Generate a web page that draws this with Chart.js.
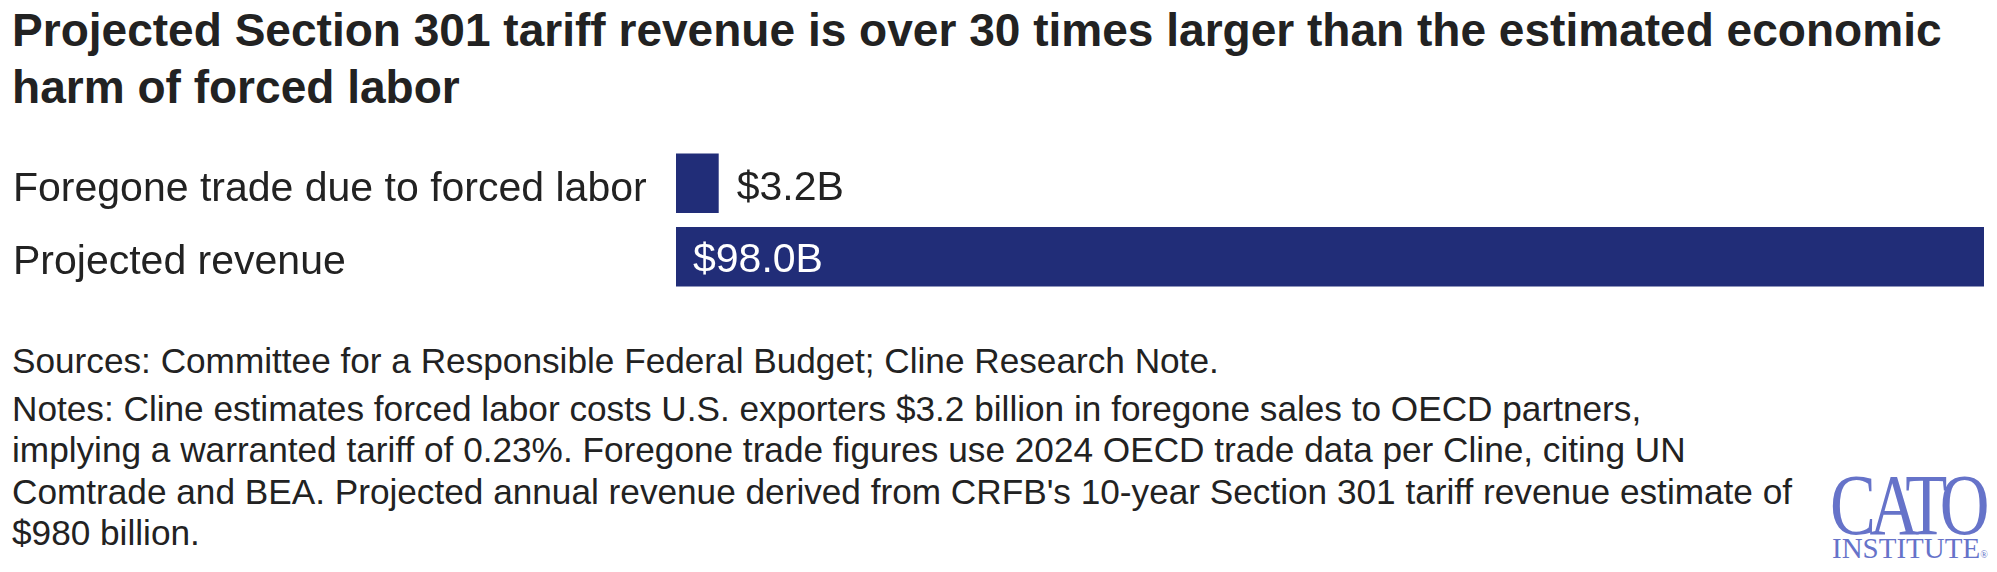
<!DOCTYPE html>
<html>
<head>
<meta charset="utf-8">
<script src="https://cdn.jsdelivr.net/npm/chart.js@4.4.1/dist/chart.umd.min.js"></script>
<style>
  html, body { margin: 0; padding: 0; background: #fff; }
  body { width: 1997px; height: 572px; position: relative; overflow: hidden; font-family: "Liberation Sans", Arial, sans-serif; color: #222; }
  .title { position: absolute; left: 12px; top: 2px; font-size: 43px; line-height: 57px; font-weight: bold; white-space: nowrap; color: #222; }
  .chart__wrap { position: absolute; left: 0; top: 122px; width: 1997px; height: 196px; }
  .notes { position: absolute; left: 12px; font-size: 30px; white-space: nowrap; color: #222; }
  .src { top: 342px; line-height: 42px; }
  .nts { top: 390px; line-height: 41.3px; }
  .logo { position: absolute; left: 1830px; top: 462px; color: #6673c9; font-family: "Liberation Serif", "Times New Roman", serif; }
  .logo__cato { position: absolute; left: 0; top: 0; font-size: 86px; line-height: 86px; white-space: nowrap; transform-origin: 0 0; }
  .logo__inst { position: absolute; left: 2px; top: 72px; font-size: 29px; line-height: 29px; white-space: nowrap; }
  .logo__inst sup { font-size: 10px; vertical-align: 0; }
</style>
</head>
<body>

<div class="title" id="title"><span id="t1">Projected Section 301 tariff revenue is over 30 times larger than the estimated economic</span><br>harm of forced labor</div>

<div class="chart__wrap"><canvas id="bars" width="1997" height="196"></canvas></div>

<div class="notes src" id="src"><span id="s1">Sources: Committee for a Responsible Federal Budget; Cline Research Note.</span></div>
<div class="notes nts" id="nts">Notes: Cline estimates forced labor costs U.S. exporters $3.2 billion in foregone sales to OECD partners,<br>implying a warranted tariff of 0.23%. Foregone trade figures use 2024 OECD trade data per Cline, citing UN<br>Comtrade and BEA. Projected annual revenue derived from CRFB's 10-year Section 301 tariff revenue estimate of<br>$980 billion.</div>

<div class="logo"><div class="logo__cato" id="cato">CATO</div><div class="logo__inst">INSTITUTE<sup>®</sup></div></div>

<script>
var categories = ["Foregone trade due to forced labor", "Projected revenue"];
var values = [3.2, 98.0];
var valueLabels = ["$3.2B", "$98.0B"];

// grow/shrink font so a line spans the width measured on the reference,
// then put its first baseline where the reference has it
function fitText(el, span, target, baseline, lh) {
    var fs = parseFloat(getComputedStyle(el).fontSize);
    var w = span.getBoundingClientRect().width;
    fs = fs * target / w;
    el.style.fontSize = fs + "px";
    el.style.top = (baseline - ((lh - 1.117 * fs) / 2 + 0.905 * fs)) + "px";
    return fs;
}
fitText(document.getElementById("title"), document.getElementById("t1"), 1930, 46, 57);
var fsNote = fitText(document.getElementById("src"), document.getElementById("s1"), 1207, 373, 42);
var nts = document.getElementById("nts");
nts.style.fontSize = fsNote + "px";
nts.style.top = (421 - ((41.3 - 1.117 * fsNote) / 2 + 0.905 * fsNote)) + "px";

var cato = document.getElementById("cato");
cato.style.letterSpacing = "-8px";
var cw = cato.getBoundingClientRect().width;
cato.style.transform = "scaleX(" + (153 / cw) + ")";

var valueLabelPlugin = {
    id: "valueLabels",
    afterDatasetsDraw: function(chart) {
        var ctx = chart.ctx;
        var meta = chart.getDatasetMeta(0);
        ctx.save();
        ctx.font = "41px 'Liberation Sans', Arial, sans-serif";
        ctx.textBaseline = "middle";
        ctx.textAlign = "left";
        meta.data.forEach(function(bar, i) {
            var txt = valueLabels[i];
            var tw = ctx.measureText(txt).width;
            var len = bar.x - bar.base;
            if (len > tw + 40) {
                ctx.fillStyle = "#ffffff";
                ctx.fillText(txt, bar.base + 17, bar.y + 4);
            } else {
                ctx.fillStyle = "#222222";
                ctx.fillText(txt, bar.x + 18, bar.y + 5);
            }
        });
        ctx.restore();
    }
};

var ctxBars = document.getElementById("bars");
new Chart(ctxBars, {
    type: 'bar',
    data: {
        labels: categories,
        datasets: [{
            data: values,
            backgroundColor: "#212d78",
            borderWidth: 0,
            categoryPercentage: 1,
            barPercentage: 0.81
        }]
    },
    options: {
        indexAxis: 'y',
        responsive: false,
        animation: false,
        devicePixelRatio: 1,
        layout: { padding: { top: 0, bottom: 0, left: 13, right: 13 } },
        plugins: {
            legend: { display: false },
            tooltip: { enabled: false },
            title: { display: false }
        },
        scales: {
            x: { display: false, min: 0, max: 98 },
            y: {
                grid: { display: false },
                border: { display: false },
                ticks: {
                    color: "#222222",
                    padding: 0,
                    crossAlign: 'far',
                    labelOffset: 6,
                    font: { family: "'Liberation Sans', Arial, sans-serif", size: 41, lineHeight: 1.2 }
                },
                afterFit: function(scale) { scale.width = 663; }
            }
        }
    },
    plugins: [valueLabelPlugin]
});
</script>
</body>
</html>
